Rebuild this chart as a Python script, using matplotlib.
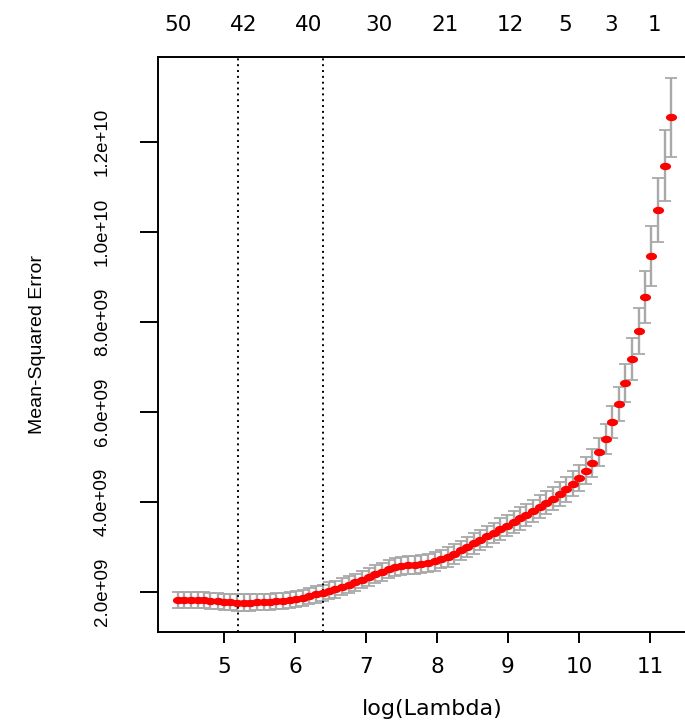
import numpy as np
import matplotlib
matplotlib.use('Agg')
import matplotlib.pyplot as plt
from matplotlib.path import Path
from matplotlib.ticker import FuncFormatter

# cross-validation curve
log_lambda = [4.35, 4.44, 4.54, 4.63, 4.72, 4.81, 4.91, 5.00, 5.09, 5.18,
              5.28, 5.37, 5.46, 5.56, 5.65, 5.74, 5.83, 5.93, 6.02, 6.11,
              6.20, 6.30, 6.39, 6.48, 6.57, 6.67, 6.76, 6.85, 6.95, 7.04,
              7.13, 7.22, 7.32, 7.41, 7.50, 7.59, 7.69, 7.78, 7.87, 7.97,
              8.06, 8.15, 8.24, 8.34, 8.43, 8.52, 8.61, 8.71, 8.80, 8.89,
              8.99, 9.08, 9.17, 9.26, 9.36, 9.45, 9.54, 9.63, 9.73, 9.82,
              9.91, 10.00, 10.10, 10.19, 10.28, 10.38, 10.47, 10.56, 10.65, 10.75,
              10.84, 10.93, 11.02, 11.12, 11.21, 11.30]

mse = [1.82, 1.81, 1.81, 1.81, 1.81, 1.80, 1.79, 1.78, 1.77, 1.76,
       1.76, 1.76, 1.77, 1.77, 1.78, 1.79, 1.80, 1.82, 1.84, 1.87,
       1.90, 1.94, 1.98, 2.02, 2.06, 2.11, 2.16, 2.21, 2.27, 2.33,
       2.39, 2.45, 2.51, 2.56, 2.58, 2.59, 2.60, 2.61, 2.64, 2.68,
       2.73, 2.77, 2.84, 2.92, 3.00, 3.08, 3.15, 3.23, 3.31, 3.39,
       3.47, 3.55, 3.63, 3.71, 3.80, 3.89, 3.98, 4.07, 4.17, 4.28,
       4.40, 4.53, 4.69, 4.87, 5.11, 5.40, 5.78, 6.18, 6.65, 7.18,
       7.80, 8.56, 9.47, 10.49, 11.47, 12.55]

mse_sd = [0.18, 0.18, 0.18, 0.18, 0.18, 0.18, 0.18, 0.18, 0.18, 0.18,
          0.18, 0.18, 0.18, 0.18, 0.18, 0.18, 0.18, 0.18, 0.18, 0.18,
          0.18, 0.18, 0.18, 0.19, 0.19, 0.19, 0.19, 0.19, 0.19, 0.20,
          0.20, 0.20, 0.20, 0.20, 0.20, 0.20, 0.20, 0.20, 0.21, 0.21,
          0.21, 0.22, 0.22, 0.22, 0.22, 0.23, 0.23, 0.23, 0.23, 0.24,
          0.24, 0.24, 0.25, 0.25, 0.25, 0.26, 0.26, 0.26, 0.27, 0.28,
          0.28, 0.29, 0.30, 0.31, 0.32, 0.33, 0.35, 0.38, 0.42, 0.47,
          0.52, 0.58, 0.66, 0.72, 0.79, 0.87]

lambda_min = 5.20
lambda_1se = 6.39

# number of nonzero coefficients along the top
nz_pos = [4.35, 5.28, 6.20, 7.18, 8.11, 9.03, 9.80, 10.45, 11.07]
nz_labels = ['50', '42', '40', '30', '21', '12', '5', '3', '1']

x_ticks = [5, 6, 7, 8, 9, 10, 11]
y_ticks = [2e9, 4e9, 6e9, 8e9, 1e10, 1.2e10]

x = np.array(log_lambda)
y = np.array(mse) * 1e9
sd = np.array(mse_sd) * 1e9

# R-style limits: data range padded 4%
xpad = 0.04 * (x.max() - x.min())
lo = (y - sd).min()
hi = (y + sd).max()
ypad = 0.04 * (hi - lo)

# dots in the picture are wider than tall
t = np.linspace(0, 2 * np.pi, 41)
dot = Path(np.column_stack([1.5 * np.cos(t), np.sin(t)]), closed=True)

fig = plt.figure(figsize=(6.85, 7.22), dpi=100)
ax = fig.add_axes([0.2307, 0.1247, 0.778, 0.7964])

ax.errorbar(x, y, yerr=sd, fmt='none', ecolor='#A9A9A9',
            elinewidth=1.7, capsize=4.5, capthick=1.3, zorder=2)
ax.plot(x, y, linestyle='none', marker=dot, markersize=8,
        color='red', markeredgewidth=0, zorder=3)

ax.axvline(lambda_min, color='black', linestyle=(0, (1, 2)), lw=1.4)
ax.axvline(lambda_1se, color='black', linestyle=(0, (1, 2)), lw=1.4)

ax.set_xlim(x.min() - xpad, x.max() + xpad)
ax.set_ylim(lo - ypad, hi + ypad)

for s in ax.spines.values():
    s.set_linewidth(1.4)
    s.set_color('black')

ax.set_xticks(x_ticks)
ax.set_xticklabels([str(v) for v in x_ticks], family='DejaVu Sans', fontsize=15.5)
ax.tick_params(axis='x', length=8, width=1.4, pad=10, colors='black')

ax.set_yticks(y_ticks)
ax.yaxis.set_major_formatter(FuncFormatter(lambda v, p: '%.1e' % v))
ax.tick_params(axis='y', length=13, width=1.4, pad=21, colors='black')
for lab in ax.get_yticklabels():
    lab.set_rotation(90)
    lab.set_va('center')
    lab.set_family('Liberation Sans')
    lab.set_fontsize(13.5)

top = ax.secondary_xaxis('top')
top.set_xticks(nz_pos)
top.set_xticklabels(nz_labels, family='DejaVu Sans', fontsize=15.5)
top.tick_params(length=0, pad=16)
top.spines['top'].set_visible(False)

fig.text(432 / 685, 1 - 709 / 722, 'log(Lambda)', ha='center', va='center',
         family='DejaVu Sans', fontsize=16)
fig.text(38 / 685, 1 - 344 / 722, 'Mean-Squared Error', ha='center', va='center',
         rotation=90, family='Liberation Sans', fontsize=14)

fig.savefig('out.png', dpi=100)
